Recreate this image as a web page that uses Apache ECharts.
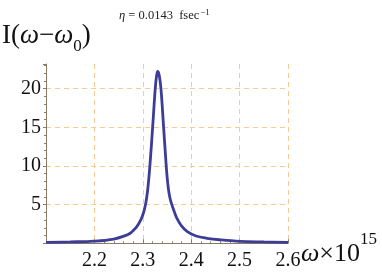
<!DOCTYPE html>
<html>
<head>
<meta charset="utf-8">
<script src="https://cdn.jsdelivr.net/npm/echarts@6/dist/echarts.min.js"></script>
<style>html,body{margin:0;padding:0;background:#fff}#c{width:382px;height:273px}</style>
</head>
<body>
<div id="c"></div>
<script>
// omega (x10^15) values
const omega = [2.10, 2.15, 2.20, 2.24, 2.264, 2.274, 2.281, 2.288, 2.294, 2.299, 2.303, 2.3065, 2.3095, 2.312, 2.315, 2.3203, 2.3257, 2.3285, 2.331, 2.334, 2.3375, 2.3429, 2.3484, 2.3505, 2.353, 2.356, 2.360, 2.365, 2.370, 2.380, 2.392, 2.410, 2.433, 2.46, 2.50, 2.55, 2.60];
// intensity I(omega - omega0)
const intensity = [0.12, 0.18, 0.28, 0.55, 1.0, 1.3, 1.7, 2.2, 2.8, 3.5, 4.3, 5.3, 6.6, 8.1, 10.3, 15.0, 20.0, 21.7, 22.25, 21.7, 20.0, 15.1, 10.0, 8.4, 7.0, 5.9, 5.0, 4.1, 3.3, 2.25, 1.5, 0.95, 0.65, 0.45, 0.26, 0.18, 0.13];
const xTicks = [2.2, 2.3, 2.4, 2.5, 2.6];
const yTicks = [5, 10, 15, 20];

const chart = echarts.init(document.getElementById('c'));
const serif = '"Liberation Serif", "DejaVu Serif", serif';
const axisCol = '#8c7a66';
const gridCol = '#fcc894';
chart.setOption({
  animation: false,
  backgroundColor: '#fff',
  title: {
    text: '{i|η} = 0.0143  fsec{s|−1}',
    left: 114, top: 3,
    textStyle: {
      fontFamily: serif, fontSize: 12.5, fontWeight: 'normal', color: '#222',
      rich: {
        i: {fontFamily: serif, fontSize: 12.5, fontStyle: 'italic', color: '#222'},
        s: {fontFamily: serif, fontSize: 9, color: '#222', verticalAlign: 'top', padding: [0, 0, 7, 1]}
      }
    }
  },
  graphic: [{
    type: 'text', left: 2, top: 22,
    style: {
      text: '{a|I(}{i|ω}{a|−}{i|ω}{s|0}{a|)}',
      rich: {
        a: {fontFamily: serif, fontSize: 27, fill: '#111', lineHeight: 40},
        i: {fontFamily: serif, fontSize: 27, fontStyle: 'italic', fill: '#111', lineHeight: 40},
        s: {fontFamily: serif, fontSize: 17, fill: '#111', lineHeight: 20, verticalAlign: 'bottom'}
      }
    }
  }, {
    type: 'text', left: 301, top: 231,
    style: {
      text: '{i|ω}{a|×10}{s|15}',
      rich: {
        a: {fontFamily: serif, fontSize: 26, fill: '#111', lineHeight: 36, verticalAlign: 'bottom'},
        i: {fontFamily: serif, fontSize: 26, fontStyle: 'italic', fill: '#111', lineHeight: 36, verticalAlign: 'bottom'},
        s: {fontFamily: serif, fontSize: 17, fill: '#111', lineHeight: 17, verticalAlign: 'top'}
      }
    }
  }],
  grid: {left: 46, right: 94, top: 64, bottom: 29.7, containLabel: false},
  xAxis: {
    type: 'value', min: 2.1, max: 2.6, interval: 0.1,
    axisLine: {show: true, onZero: false, lineStyle: {color: axisCol, width: 1}},
    axisTick: {show: true, inside: true, length: 4, lineStyle: {color: axisCol}},
    minorTick: {show: true, splitNumber: 5, length: 2, lineStyle: {color: axisCol}},
    axisLabel: {
      fontFamily: serif, fontSize: 20, color: '#111', margin: 7,
      formatter: v => xTicks.some(t => Math.abs(t - v) < 1e-6) ? v.toFixed(1) : ''
    },
    splitLine: {show: true, showMinLine: false, lineStyle: {color: gridCol, type: [5, 4], width: 1}}
  },
  yAxis: {
    type: 'value', min: 0, max: 23.2, interval: 5,
    axisLine: {show: true, lineStyle: {color: axisCol, width: 1}},
    axisTick: {show: true, inside: false, length: 3, lineStyle: {color: axisCol}},
    minorTick: {show: true, splitNumber: 5, length: 2, lineStyle: {color: axisCol}},
    axisLabel: {
      fontFamily: serif, fontSize: 20, color: '#111', margin: 5,
      formatter: v => yTicks.indexOf(v) >= 0 ? String(v) : ''
    },
    splitLine: {show: true, showMinLine: false, showMaxLine: false, lineStyle: {color: gridCol, type: [5, 4], width: 1}}
  },
  series: [{
    type: 'line',
    data: omega.map((w, i) => [w, intensity[i]]),
    smooth: 0.4,
    showSymbol: false,
    lineStyle: {color: '#3d3d99', width: 2.8},
    z: 5
  }]
});
</script>
</body>
</html>
